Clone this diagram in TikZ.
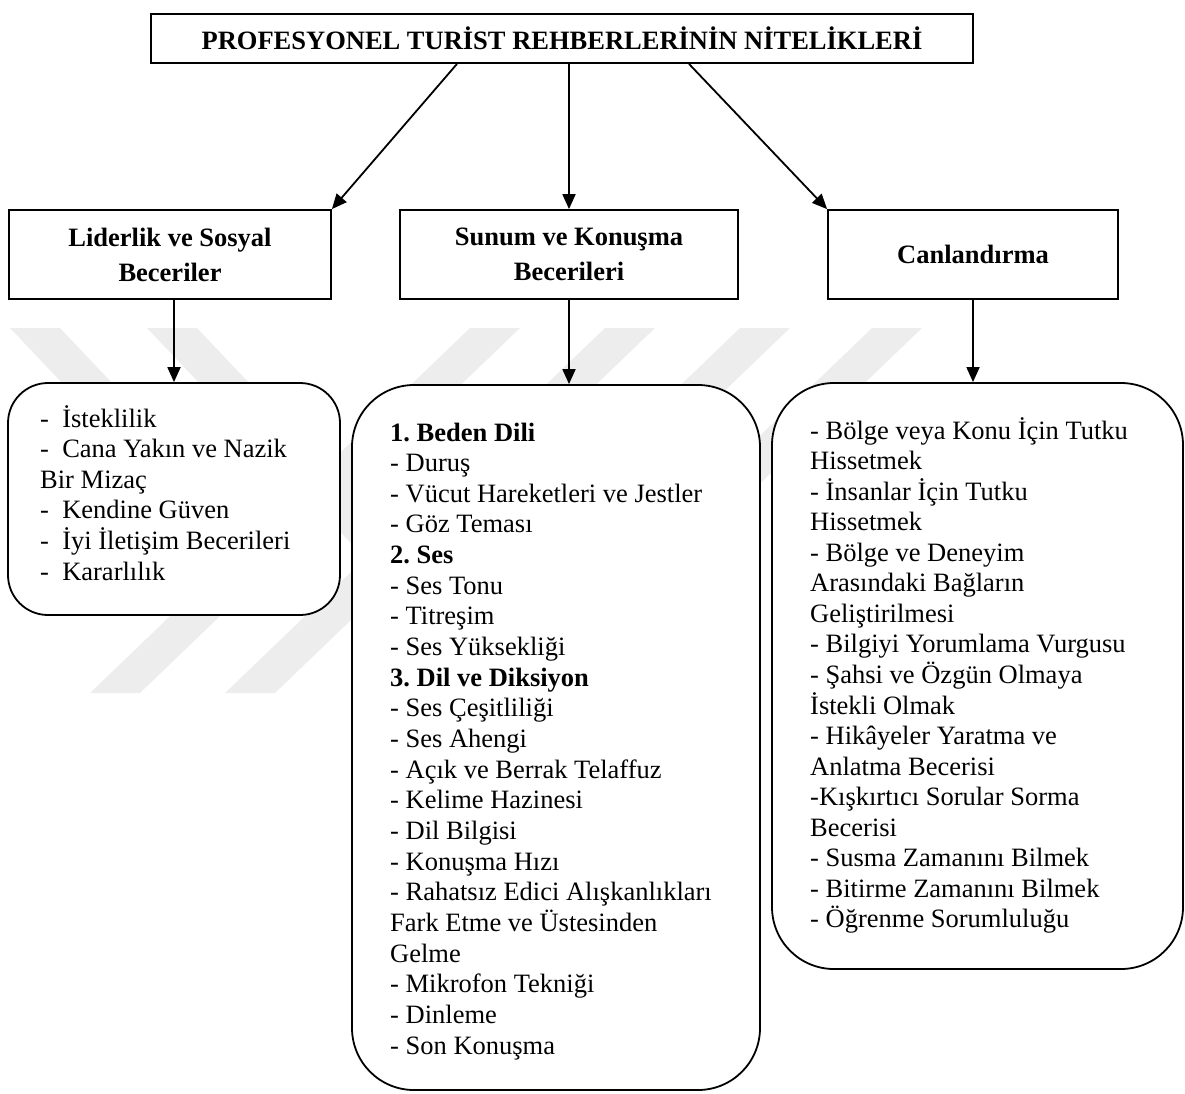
\documentclass[tikz,border=0pt]{standalone}
\usepackage{fontspec}
\setmainfont{Liberation Serif}
\usetikzlibrary{arrows.meta,calc}
\frenchspacing
\begin{document}
\begin{tikzpicture}[x=1pt,y=-1pt,
  every node/.append style={font=\fontsize{26.5}{35}\selectfont},
  box/.style={draw, line width=1.8pt, fill=white, inner sep=0pt},
  hdr/.style={box, align=center, font=\fontsize{26.5}{35}\selectfont\bfseries},
  rbox/.style={draw, line width=1.8pt, fill=white, inner sep=0pt},
  conn/.style={line width=1.8pt, -{Triangle[length=15pt,width=13pt]}},
  item/.style={anchor=base west, inner sep=0pt},
  wm/.style={fill=black!7, draw=none}]
\useasboundingbox (0,0) rectangle (1185,1093);

% faint background watermark
\foreach \a in {470,605,740,872}
  \fill[wm] (\a,328) -- (\a+50,328) -- (\a-330,693) -- (\a-380,693) -- cycle;
\foreach \a in {10,147}
  \fill[wm] (\a,328) -- (\a+50,328) -- (\a+269,559) -- (\a+219,559) -- cycle;

% title
\node[hdr, minimum width=822pt, minimum height=49pt] (title) at (562,38.5)
  {PROFESYONEL TURİST REHBERLERİNİN NİTELİKLERİ};

% header boxes
\node[hdr, minimum width=322pt, minimum height=89pt] (lid) at (170,254.5)
  {Liderlik ve Sosyal\\Beceriler};
\node[hdr, minimum width=338pt, minimum height=89pt] (sun) at (569,254.5)
  {Sunum ve Konuşma\\Becerileri};
\node[hdr, minimum width=290pt, minimum height=89pt] (can) at (973,254.5)
  {Canlandırma};

% list boxes
\node[rbox, rounded corners=40pt, minimum width=332pt, minimum height=232pt] (lidl) at (174,499) {};
\node[rbox, rounded corners=62pt, minimum width=408pt, minimum height=705pt] (sunl) at (556,737.5) {};
\node[rbox, rounded corners=62pt, minimum width=411pt, minimum height=586pt] (canl) at (977.5,676) {};

% connectors
\draw[conn] ($(title.south)+(-105,0)$) -- (lid.north east);
\draw[conn] ($(title.south)+(7,0)$) -- (sun.north);
\draw[conn] ($(title.south)+(127,0)$) -- (can.north west);
\draw[conn] (lidl.north |- lid.south) -- (lidl.north);
\draw[conn] (sun.south) -- (sun.south |- sunl.north);
\draw[conn] (can.south) -- (can.south |- canl.north);

% list texts
\foreach \t [count=\i] in {%
  -~~İsteklilik,
  -~~Cana Yakın ve Nazik,
  Bir Mizaç,
  -~~Kendine Güven,
  -~~İyi İletişim Becerileri,
  -~~Kararlılık}
  \node[item] (l\i) at (40,{427+30.6*(\i-1)}) {\t};

\foreach \t [count=\i] in {%
  \textbf{1. Beden Dili},
  - Duruş,
  - Vücut Hareketleri ve Jestler,
  - Göz Teması,
  \textbf{2. Ses},
  - Ses Tonu,
  - Titreşim,
  - Ses Yüksekliği,
  \textbf{3. Dil ve Diksiyon},
  - Ses Çeşitliliği,
  - Ses Ahengi,
  - Açık ve Berrak Telaffuz,
  - Kelime Hazinesi,
  - Dil Bilgisi,
  - Konuşma Hızı,
  - Rahatsız Edici Alışkanlıkları,
  Fark Etme ve Üstesinden,
  Gelme,
  - Mikrofon Tekniği,
  - Dinleme,
  - Son Konuşma}
  \node[item] (s\i) at (390,{441+30.65*(\i-1)}) {\t};

\foreach \t [count=\i] in {%
  - Bölge veya Konu İçin Tutku,
  Hissetmek,
  - İnsanlar İçin Tutku,
  Hissetmek,
  - Bölge ve Deneyim,
  Arasındaki Bağların,
  Geliştirilmesi,
  - Bilgiyi Yorumlama Vurgusu,
  - Şahsi ve Özgün Olmaya,
  İstekli Olmak,
  - Hikâyeler Yaratma ve,
  Anlatma Becerisi,
  -Kışkırtıcı Sorular Sorma,
  Becerisi,
  - Susma Zamanını Bilmek,
  - Bitirme Zamanını Bilmek,
  - Öğrenme Sorumluluğu}
  \node[item] (c\i) at (810,{439+30.56*(\i-1)}) {\t};
\end{tikzpicture}
\end{document}
